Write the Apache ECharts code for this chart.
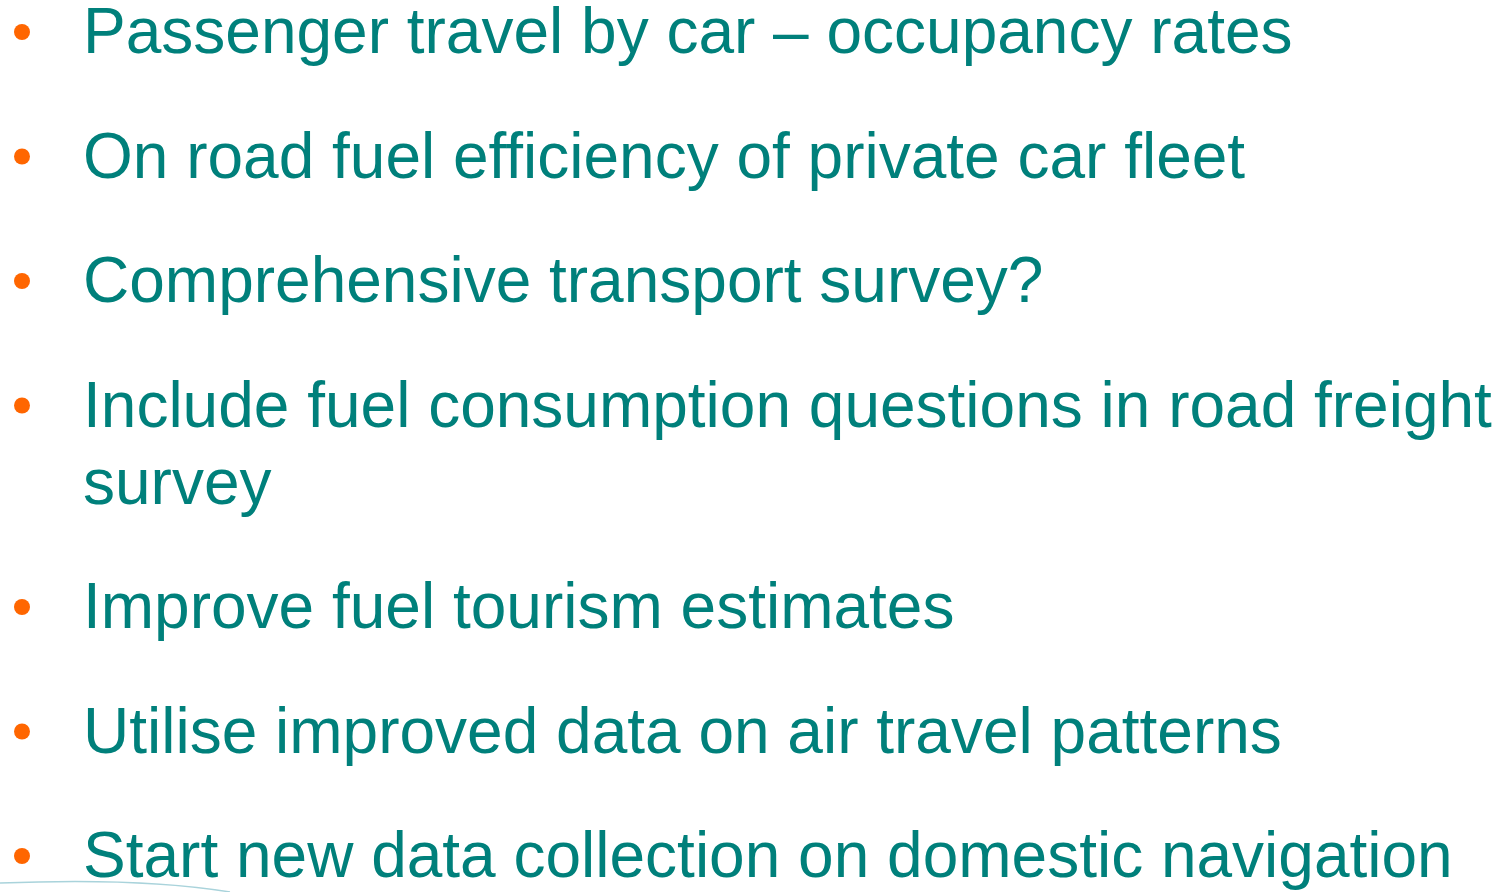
<!DOCTYPE html>
<html>
<head>
<meta charset="utf-8">
<script src="https://cdn.jsdelivr.net/npm/echarts@6/dist/echarts.min.js"></script>
<style>html,body{margin:0;padding:0;background:#fff;}#c{width:1500px;height:892px;}</style>
</head>
<body>
<div id="c"></div>
<script>
// Slide content (bullet items)
const items = [
  "Passenger travel by car \u2013 occupancy rates",
  "On road fuel efficiency of private car fleet",
  "Comprehensive transport survey?",
  "Include fuel consumption questions in road freight survey",
  "Improve fuel tourism estimates",
  "Utilise improved data on air travel patterns",
  "Start new data collection on domestic navigation"
];

const TEXT_COLOR = '#00807B';
const BULLET_COLOR = '#FF6600';
const FONT = 'Liberation Sans, Arial, sans-serif';
const FONT_SIZE = 64;
const LINE_H = 77;
const PARA_GAP = 47.5;   // extra space between items
const TEXT_X = 83;
const TEXT_W = 1416;
const FIRST_BASELINE = 54;
const DESCENT = 0.212 * FONT_SIZE;

const chart = echarts.init(document.getElementById('c'), null, {renderer: 'canvas'});

function measureLines(str) {
  const ctx = document.createElement('canvas').getContext('2d');
  ctx.font = FONT_SIZE + 'px ' + FONT;
  const words = str.split(' ');
  const lines = [];
  let cur = '';
  words.forEach(w => {
    const t = cur ? cur + ' ' + w : w;
    if (ctx.measureText(t).width > TEXT_W && cur) { lines.push(cur); cur = w; }
    else cur = t;
  });
  if (cur) lines.push(cur);
  return lines;
}

const graphics = [];
let baseline = FIRST_BASELINE;
items.forEach(str => {
  const lines = measureLines(str);
  graphics.push({
    type: 'circle',
    shape: {cx: 22, cy: baseline - 22, r: 8},
    style: {fill: BULLET_COLOR}
  });
  lines.forEach((ln, i) => {
    graphics.push({
      type: 'text',
      x: TEXT_X,
      y: baseline + i * LINE_H + DESCENT,
      style: {
        text: ln,
        fill: TEXT_COLOR,
        font: FONT_SIZE + 'px ' + FONT,
        textAlign: 'left',
        textVerticalAlign: 'bottom',
        verticalAlign: 'bottom'
      }
    });
  });
  baseline += lines.length * LINE_H + PARA_GAP;
});

// decorative light blue swoosh at bottom-left
graphics.push({
  type: 'bezierCurve',
  shape: {x1: 0, y1: 883, cpx1: 100, cpy1: 879, cpx2: 170, cpy2: 882, x2: 230, y2: 892},
  style: {stroke: '#a9d3db', lineWidth: 1.5, fill: null},
  z: -1
});

chart.setOption({
  backgroundColor: '#ffffff',
  animation: false,
  graphic: graphics
});
</script>
</body>
</html>
